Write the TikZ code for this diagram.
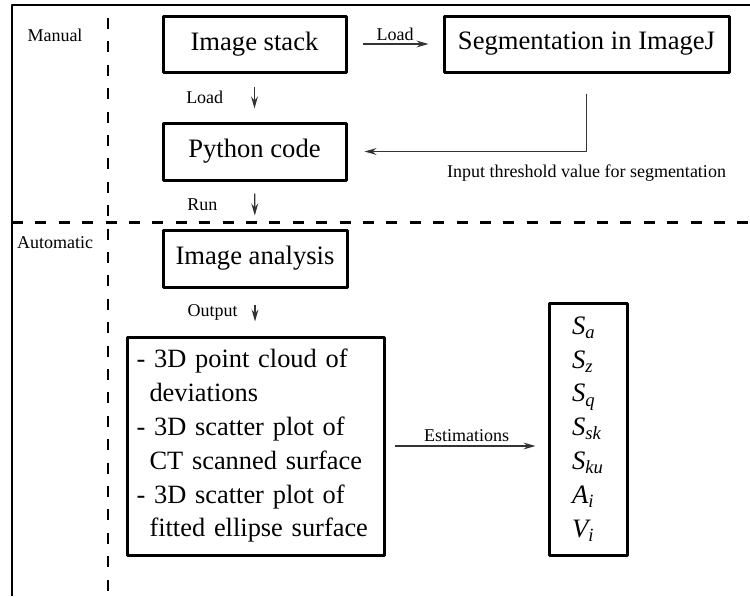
\documentclass[tikz,border=0pt]{standalone}
\usepackage{fontspec}
\setmainfont{Liberation Serif}
\usepackage{amsmath}
\usetikzlibrary{arrows.meta,positioning}

\begin{document}
\begin{tikzpicture}[x=0.5pt, y=-0.5pt, line join=round, >={Stealth[length=6pt,width=3.4pt,inset=2pt]},
 box/.style={draw, line width=1.5pt, inner sep=0pt, font=\fontsize{13.3}{16.9}\selectfont},
 lab/.style={font=\fontsize{9}{11}\selectfont},
 link/.style={->, draw=black!80, line width=0.6pt},
 part/.style={line width=1.2pt, dash pattern=on 5.5pt off 6.2pt}]
 \useasboundingbox (0,0) rectangle (750,596);
 % frame and the two parts
 \draw[line width=0.8pt] (12,596) -- (12,5) -- (750,5);
 \draw[part] (108,18) -- (108,596);
 \draw[part] (12,222.5) -- (750,222.5);
 \node[lab] (manual) at (55,35) {Manual};
 \node[lab] (auto) at (55,243) {Automatic};
 % boxes
 \node[box, minimum width=91.5pt, minimum height=28pt] (stack) at (254.5,44) {Image stack};
 \node[box, minimum width=142.5pt, minimum height=28pt] (seg) at (586.5,44) {Segmentation in ImageJ};
 \node[box, minimum width=91.5pt, minimum height=28.5pt] (python) at (254.5,151.5) {Python code};
 \node[box, minimum width=92pt, minimum height=28.5pt] (analysis) at (255,258.5) {Image analysis};
 \node[box, font=\fontsize{13.2}{16.9}\selectfont, minimum width=128.5pt, minimum height=109pt, text width=119pt, align=left] (list) at (255.5,446)
  {- 3D point cloud of\\ \hspace*{6.5pt}deviations\\ - 3D scatter plot of\\ \hspace*{6.5pt}CT scanned surface\\
   - 3D scatter plot of\\ \hspace*{6.5pt}fitted ellipse surface};
 \node[box, minimum width=39pt, minimum height=126pt, align=left] (est) at (588,429)
  {$\textit{S}_{\textit{a}}$\\ $\textit{S}_{\textit{z}}$\\ $\textit{S}_{\textit{q}}$\\ $\textit{S}_{\textit{sk}}$\\
   $\textit{S}_{\textit{ku}}$\\ $\textit{A}_{\textit{i}}$\\ $\textit{V}_{\textit{i}}$};
 % connectors
 \draw[link, shorten <=7.5pt, shorten >=7pt] (stack) -- node[lab, above, inner sep=1.5pt] (load1) {Load} (seg);
 \draw[link, shorten <=6.5pt, shorten >=6.5pt] (stack) -- node[lab, left=12pt] (load2) {Load} (python);
 \draw[link, shorten <=10pt, shorten >=8.5pt] (seg.south) |- node[lab, below=3pt] (thr) {Input threshold value for segmentation} (python.east);
 \draw[link, shorten <=6pt, shorten >=6.5pt] (python) -- node[lab, left=15pt] (run) {Run} (analysis);
 \draw[link, shorten <=8pt, shorten >=7pt] (analysis) -- node[lab, left=5pt] (out) {Output} (analysis |- list.north);
 \draw[link, shorten <=4.5pt, shorten >=6pt] (list) -- node[lab, above, inner sep=2pt] (estlab) {Estimations} (list -| est.west);
\end{tikzpicture}
\end{document}
